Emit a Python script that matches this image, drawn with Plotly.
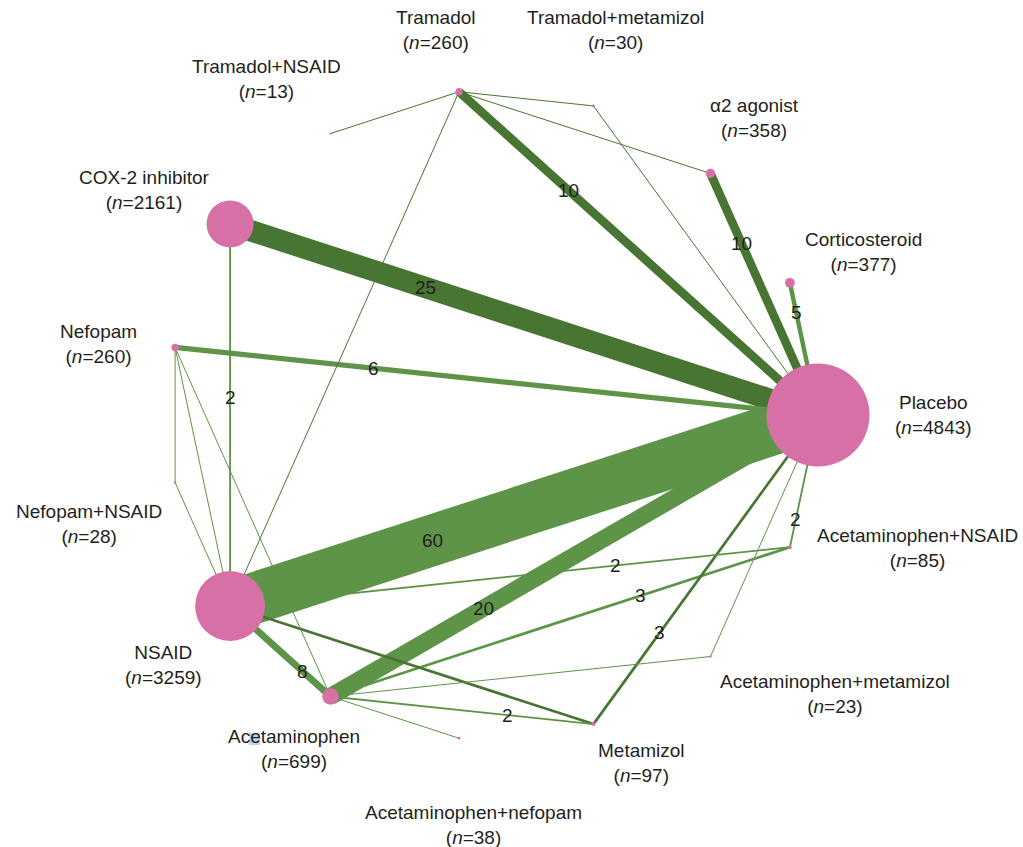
import numpy as np
import plotly.graph_objects as go

# Treatments, in order round the network circle (starting at Placebo, counter-clockwise)
treatments = [
    "Placebo", "Corticosteroid", "\u03b12 agonist", "Tramadol+metamizol", "Tramadol",
    "Tramadol+NSAID", "COX-2 inhibitor", "Nefopam", "Nefopam+NSAID", "NSAID",
    "Acetaminophen", "Acetaminophen+nefopam", "Metamizol", "Acetaminophen+metamizol",
    "Acetaminophen+NSAID",
]
n_patients = [4843, 377, 358, 30, 260, 13, 2161, 260, 28, 3259, 699, 38, 97, 23, 85]

# Direct comparisons: (treatment A, treatment B, number of studies)
edge_a = ["NSAID", "COX-2 inhibitor", "Acetaminophen", "Tramadol", "\u03b12 agonist",
          "Nefopam", "Corticosteroid", "NSAID", "Acetaminophen", "Metamizol",
          "COX-2 inhibitor", "Acetaminophen+NSAID", "NSAID", "Acetaminophen", "NSAID",
          "Tramadol", "Tramadol", "Tramadol", "Tramadol", "Tramadol+metamizol",
          "Nefopam", "Nefopam+NSAID", "Nefopam", "Nefopam", "Acetaminophen",
          "Acetaminophen", "Acetaminophen+metamizol"]
edge_b = ["Placebo", "Placebo", "Placebo", "Placebo", "Placebo",
          "Placebo", "Placebo", "Acetaminophen", "Acetaminophen+NSAID", "Placebo",
          "NSAID", "Placebo", "Acetaminophen+NSAID", "Metamizol", "Metamizol",
          "Tramadol+NSAID", "Tramadol+metamizol", "\u03b12 agonist", "NSAID", "Placebo",
          "Nefopam+NSAID", "NSAID", "NSAID", "Acetaminophen", "Acetaminophen+nefopam",
          "Acetaminophen+metamizol", "Placebo"]
n_studies = [60, 25, 20, 10, 10, 6, 5, 8, 3, 3, 2, 2, 2, 2, 3,
             1, 1, 1, 1, 1, 1, 1, 1, 1, 1, 1, 1]

# ---- styling / layout ----
W, H = 1023, 847
CX, CY, R = 493, 415, 325          # circle centre and radius in pixels
NODE_COLOR = "#D870A8"
DARK_GREEN = "#487532"
LIGHT_GREEN = "#5E9448"
TEXT_COLOR = "#231F20"
FONT = "Liberation Sans, Arial, Helvetica, sans-serif"
FS = 19

edge_color = [LIGHT_GREEN, DARK_GREEN, LIGHT_GREEN, DARK_GREEN, DARK_GREEN,
              LIGHT_GREEN, LIGHT_GREEN, LIGHT_GREEN, LIGHT_GREEN, DARK_GREEN,
              LIGHT_GREEN, LIGHT_GREEN, LIGHT_GREEN, LIGHT_GREEN, DARK_GREEN,
              DARK_GREEN, DARK_GREEN, DARK_GREEN, DARK_GREEN, DARK_GREEN,
              LIGHT_GREEN, LIGHT_GREEN, LIGHT_GREEN, LIGHT_GREEN, LIGHT_GREEN,
              LIGHT_GREEN, LIGHT_GREEN]
# where along each edge (from A to B) its study count is written; None = not written
label_t = [0.344, 0.332, 0.313, 0.304, 0.29, 0.308, 0.228, 0.726, 0.674, 0.295,
           0.455, 0.213, 0.688, 0.675, None] + [None] * 12

# node label offsets (pixels, right / down)
label_dx = [115, 74, 44, 22, -23, -64, -86, -77, -86, -67, -37, 14, 48, 125, 128]
label_dy = [0, -31, -55, -76, -62, -55, -34, -3, 41, 59, 53, 87, 39, 37, 1]

# circular layout: equally spaced nodes
k = np.arange(len(treatments))
theta = np.deg2rad(360.0 * k / len(treatments))
node_x = np.cos(theta)
node_y = np.sin(theta)
idx = {t: i for i, t in enumerate(treatments)}

fig = go.Figure()

# edges, widest first so thin lines sit on top
order = sorted(range(len(n_studies)), key=lambda i: -n_studies[i])
for i in order:
    a, b = idx[edge_a[i]], idx[edge_b[i]]
    fig.add_trace(go.Scatter(
        x=[node_x[a], node_x[b]], y=[node_y[a], node_y[b]],
        mode="lines",
        line=dict(color=edge_color[i], width=0.15 + 0.85 * n_studies[i]),
        hoverinfo="skip", showlegend=False,
    ))

# nodes, area grows with the number of patients
fig.add_trace(go.Scatter(
    x=node_x, y=node_y, mode="markers",
    marker=dict(color=NODE_COLOR, size=[2 + n / 48 for n in n_patients],
                line=dict(width=0), opacity=1),
    text=treatments, hoverinfo="text", showlegend=False,
))

annotations = []
for i, t in enumerate(treatments):
    annotations.append(dict(
        x=node_x[i], y=node_y[i], xref="x", yref="y",
        text=f"{t}<br>(<i>n</i>={n_patients[i]})",
        showarrow=False, xanchor="center", yanchor="middle", align="center",
        xshift=label_dx[i], yshift=-label_dy[i],
        font=dict(family=FONT, size=FS, color=TEXT_COLOR),
    ))

for i, tt in enumerate(label_t):
    if tt is None:
        continue
    a, b = idx[edge_a[i]], idx[edge_b[i]]
    annotations.append(dict(
        x=node_x[a] + tt * (node_x[b] - node_x[a]),
        y=node_y[a] + tt * (node_y[b] - node_y[a]),
        xref="x", yref="y", text=str(n_studies[i]), showarrow=False,
        xanchor="center", yanchor="middle",
        font=dict(family=FONT, size=FS, color=TEXT_COLOR),
    ))

# light-blue selection highlight on one letter of the Acetaminophen label
ac = idx["Acetaminophen"]
hx0 = (249 - CX) / R
hx1 = (260 - CX) / R
hy0 = (CY - 733) / R
hy1 = (CY - 745) / R
shapes = [dict(type="rect", xref="x", yref="y", x0=hx0, x1=hx1, y0=hy1, y1=hy0,
               fillcolor="rgba(150,190,230,0.65)", line=dict(width=0), layer="below")]

fig.update_layout(
    width=W, height=H,
    margin=dict(l=0, r=0, t=0, b=0, pad=0),
    paper_bgcolor="white", plot_bgcolor="white",
    xaxis=dict(range=[-CX / R, (W - CX) / R], visible=False, fixedrange=True),
    yaxis=dict(range=[(CY - H) / R, CY / R], visible=False, fixedrange=True),
    annotations=annotations,
    shapes=shapes,
    showlegend=False,
)

fig.write_html("out.html")
